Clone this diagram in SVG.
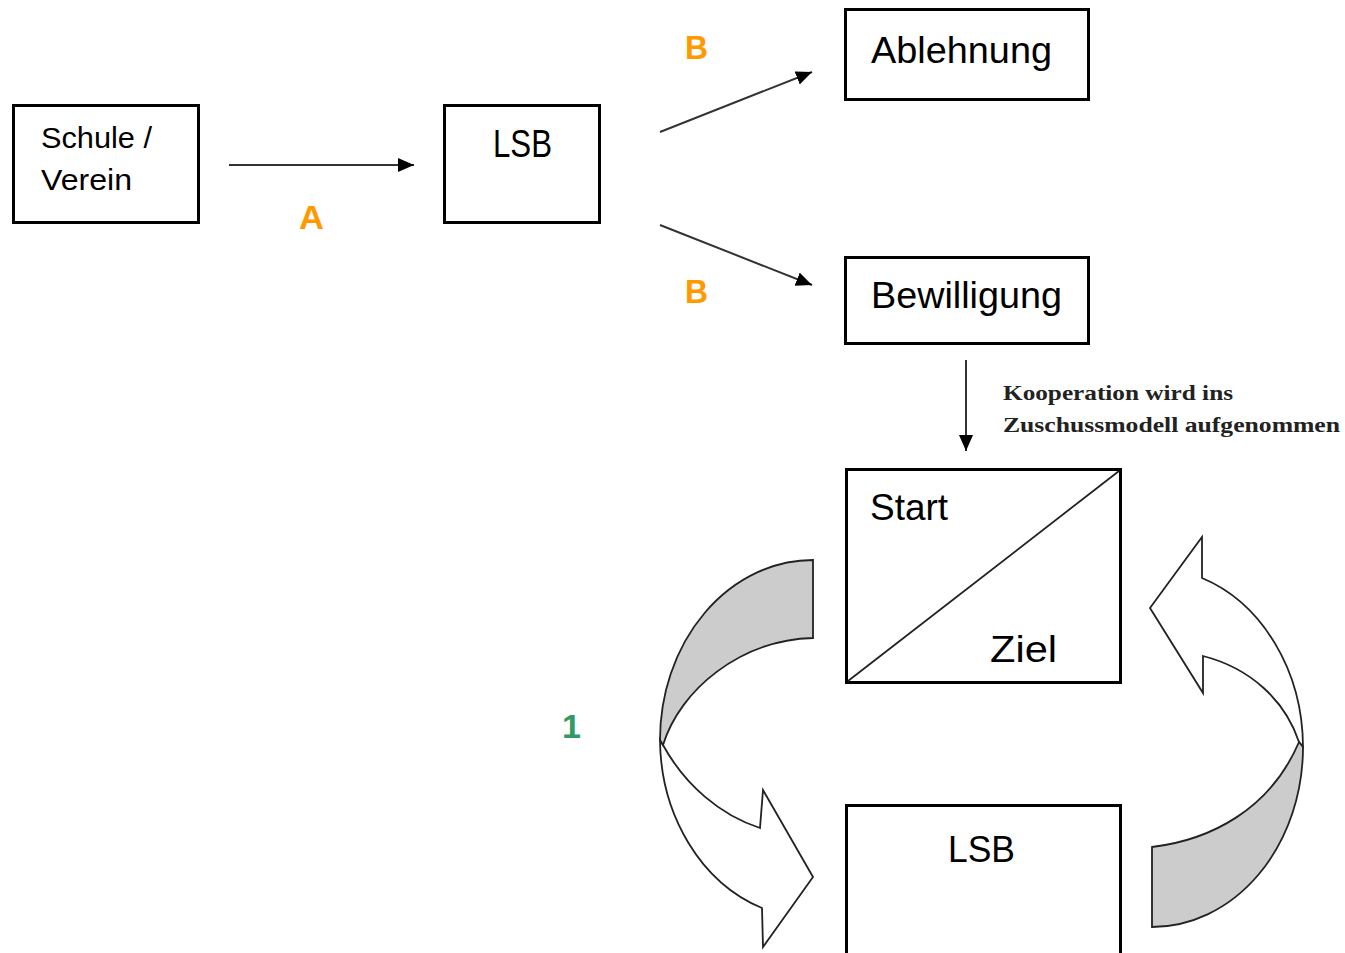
<svg xmlns="http://www.w3.org/2000/svg" width="1345" height="953" viewBox="0 0 1345 953">
<style>
.box{fill:#fff;stroke:#000;stroke-width:3}
.lbl{font-family:"Liberation Sans",Arial,sans-serif;fill:#000}
.conn{stroke:#333;stroke-width:2;fill:none}
.orange{font-family:"Liberation Sans",Arial,sans-serif;fill:#FF9900;font-size:34px;font-weight:bold}
.cap{font-family:"Liberation Serif","Times New Roman",serif;font-size:22px;font-weight:bold;fill:#222}
.cw{stroke:#222;stroke-width:1.8;stroke-linejoin:miter}
</style>
<defs>
<marker id="ah" markerUnits="userSpaceOnUse" markerWidth="18" markerHeight="16" refX="16" refY="7" orient="auto">
<path d="M0,0 L16,7 L0,14 Z" fill="#000"/>
</marker>
</defs>
<rect width="1345" height="953" fill="#fff"/>
<g id="connectors">
<line class="conn" x1="229" y1="165" x2="414" y2="165" marker-end="url(#ah)"/>
<line class="conn" x1="660" y1="132" x2="812" y2="72" marker-end="url(#ah)"/>
<line class="conn" x1="660" y1="225" x2="812" y2="285" marker-end="url(#ah)"/>
<line class="conn" x1="966" y1="360" x2="966" y2="451" marker-end="url(#ah)"/>
<text class="orange" x="299" y="229" textLength="25" lengthAdjust="spacingAndGlyphs">A</text>
<text class="orange" x="685" y="59" textLength="23" lengthAdjust="spacingAndGlyphs">B</text>
<text class="orange" x="685" y="303" textLength="23" lengthAdjust="spacingAndGlyphs">B</text>
<text class="cap" x="1003" y="400" textLength="230" lengthAdjust="spacingAndGlyphs">Kooperation wird ins</text>
<text class="cap" x="1003" y="432" textLength="337" lengthAdjust="spacingAndGlyphs">Zuschussmodell aufgenommen</text>
</g>
<g id="schule">
<rect class="box" x="13.5" y="105.5" width="185" height="117"/>
<text class="lbl" x="41" y="148" font-size="29" textLength="111" lengthAdjust="spacingAndGlyphs">Schule /</text>
<text class="lbl" x="41" y="190" font-size="29" textLength="91" lengthAdjust="spacingAndGlyphs">Verein</text>
</g>
<g id="lsb1">
<rect class="box" x="444.5" y="105.5" width="155" height="117"/>
<text class="lbl" x="493" y="157" font-size="38" textLength="59" lengthAdjust="spacingAndGlyphs">LSB</text>
</g>
<g id="ablehnung">
<rect class="box" x="845.5" y="9.5" width="243" height="90"/>
<text class="lbl" x="871" y="63" font-size="37" textLength="181" lengthAdjust="spacingAndGlyphs">Ablehnung</text>
</g>
<g id="bewilligung">
<rect class="box" x="845.5" y="257.5" width="243" height="86"/>
<text class="lbl" x="871" y="308" font-size="37" textLength="191" lengthAdjust="spacingAndGlyphs">Bewilligung</text>
</g>
<g id="startziel">
<rect class="box" x="846.5" y="469.5" width="274" height="213"/>
<line x1="848" y1="681" x2="1119" y2="471" stroke="#222" stroke-width="1.8"/>
<text class="lbl" x="870" y="520" font-size="37" textLength="78" lengthAdjust="spacingAndGlyphs">Start</text>
<text class="lbl" x="990" y="662" font-size="37" textLength="67" lengthAdjust="spacingAndGlyphs">Ziel</text>
</g>
<g id="lsb2">
<path d="M846.5,953 V805.5 H1120.5 V953" fill="#fff" stroke="#000" stroke-width="3"/>
<text class="lbl" x="948" y="862" font-size="37" textLength="67" lengthAdjust="spacingAndGlyphs">LSB</text>
</g>
<g id="cycle-left">
<path class="cw" fill="#fff" d="M663,745 C685,785 720,815 760,828 L763,790 L813,877 L763,947 L762,908 A153,180 0 0 1 660,740 Z"/>
<path class="cw" fill="#cccccc" d="M813,560 A153,180 0 0 0 660,740 L663,745 C680,690 740,640 813,638 Z"/>
<text x="562" y="738" font-family="Liberation Sans,Arial,sans-serif" font-size="34" font-weight="bold" fill="#339966">1</text>
</g>
<g id="cycle-right">
<path class="cw" fill="#fff" d="M1299,742 C1285,700 1250,668 1203,656 L1203,693 L1150,608 L1202,537 L1202,578 A151,180 0 0 1 1303,747 Z"/>
<path class="cw" fill="#cccccc" d="M1152,847 C1210,840 1270,810 1299,742 L1303,747 A151,180 0 0 1 1152,927 Z"/>
</g>
</svg>
